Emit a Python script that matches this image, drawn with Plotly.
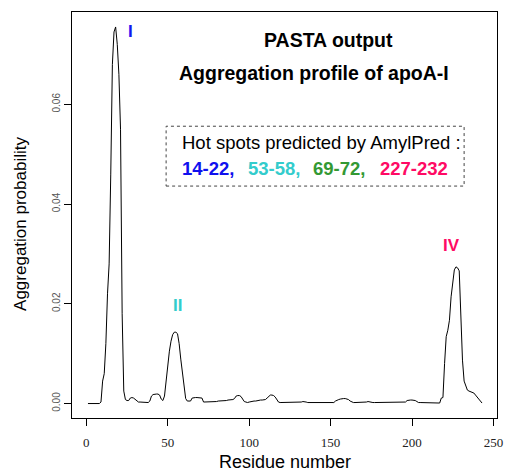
import plotly.graph_objects as go

# Residue numbers 1..243 of apoA-I
residues = list(range(1, 244))

# PASTA aggregation probability per residue
aggregation = [
    # 1-10
    0.0, 0.0, 0.0, 0.0, 0.0, 0.0, 0.0, 0.0, 0.0003, 0.0045,
    # 11-20
    0.0060, 0.0120, 0.0220, 0.0280, 0.0460, 0.0680, 0.0745, 0.0755, 0.0720, 0.0660,
    # 21-30
    0.0550, 0.0180, 0.0025, 0.0008, 0.0006, 0.0006, 0.0011, 0.0012, 0.0011, 0.0008,
    # 31-40
    0.0005, 0.0003, 0.0003, 0.0003, 0.0002, 0.0002, 0.0002, 0.0002, 0.0005, 0.0015,
    # 41-50
    0.0018, 0.0019, 0.0019, 0.0019, 0.0017, 0.0009, 0.0006, 0.0015, 0.0050, 0.0080,
    # 51-60
    0.0105, 0.0125, 0.0138, 0.0143, 0.0143, 0.0140, 0.0120, 0.0089, 0.0060, 0.0032,
    # 61-70
    0.0010, 0.0005, 0.0005, 0.0005, 0.0011, 0.0012, 0.0012, 0.0012, 0.0012, 0.0012,
    # 71-80
    0.0011, 0.0003, 0.0003, 0.0003, 0.0004, 0.0004, 0.0004, 0.0004, 0.0004, 0.0004,
    # 81-90
    0.0005, 0.0005, 0.0005, 0.0005, 0.0006, 0.0006, 0.0007, 0.0007, 0.0008, 0.0008,
    # 91-100
    0.0010, 0.0015, 0.0016, 0.0016, 0.0014, 0.0008, 0.0004, 0.0003, 0.0002, 0.0003,
    # 101-110
    0.0004, 0.0005, 0.0005, 0.0005, 0.0006, 0.0007, 0.0007, 0.0007, 0.0007, 0.0008,
    # 111-120
    0.0011, 0.0015, 0.0017, 0.0017, 0.0016, 0.0013, 0.0008, 0.0003, 0.0002, 0.0002,
    # 121-130
    0.0002, 0.0002, 0.0002, 0.0002, 0.0002, 0.0002, 0.0002, 0.0002, 0.0002, 0.0002,
    # 131-140
    0.0002, 0.0003, 0.0004, 0.0004, 0.0003, 0.0002, 0.0002, 0.0002, 0.0002, 0.0002,
    # 141-150
    0.0002, 0.0002, 0.0001, 0.0001, 0.0001, 0.0002, 0.0002, 0.0002, 0.0002, 0.0002,
    # 151-160
    0.0002, 0.0002, 0.0005, 0.0007, 0.0008, 0.0009, 0.0010, 0.0010, 0.0010, 0.0009,
    # 161-170
    0.0008, 0.0005, 0.0003, 0.0002, 0.0002, 0.0002, 0.0002, 0.0002, 0.0002, 0.0002,
    # 171-180
    0.0002, 0.0003, 0.0004, 0.0003, 0.0002, 0.0002, 0.0002, 0.0002, 0.0002, 0.0002,
    # 181-190
    0.0002, 0.0002, 0.0002, 0.0002, 0.0002, 0.0002, 0.0002, 0.0002, 0.0003, 0.0003,
    # 191-200
    0.0003, 0.0003, 0.0003, 0.0003, 0.0003, 0.0003, 0.0006, 0.0007, 0.0007, 0.0007,
    # 201-210
    0.0007, 0.0006, 0.0004, 0.0002, 0.0002, 0.0002, 0.0002, 0.0002, 0.0002, 0.0001,
    # 211-220
    0.0001, 0.0001, 0.0001, 0.0001, 0.0001, 0.0001, 0.0001, 0.0011, 0.0012, 0.0080,
    # 221-230
    0.0134, 0.0147, 0.0167, 0.0214, 0.0243, 0.0268, 0.0274, 0.0272, 0.0266, 0.0180,
    # 231-240
    0.0087, 0.0045, 0.0035, 0.0027, 0.0025, 0.0024, 0.0023, 0.0021, 0.0017, 0.0013,
    # 241-243
    0.0009, 0.0004, 0.0001,
]

x_ticks = [0, 50, 100, 150, 200, 250]
y_ticks = [0.00, 0.02, 0.04, 0.06]
y_tick_labels = ["0.00", "0.02", "0.04", "0.06"]

peak_labels = ["I", "II", "IV"]
peak_label_x = [27, 56, 224]
peak_label_y = [0.0745, 0.0197, 0.0316]
peak_colors = ["#1515f0", "#33cccc", "#ff0a64"]

hotspots = ["14-22,", "53-58,", "69-72,", "227-232"]
hotspot_colors = ["#1010ee", "#33cccc", "#339933", "#ff0a64"]
hotspot_x = [57.6, 97.9, 138.1, 179.0]

FONT = "Arial, Liberation Sans, sans-serif"

fig = go.Figure()
fig.add_trace(go.Scatter(
    x=residues, y=aggregation, mode="lines",
    line=dict(color="black", width=1), showlegend=False, hoverinfo="skip",
))

annotations = []
for t, xx, yy, c in zip(peak_labels, peak_label_x, peak_label_y, peak_colors):
    annotations.append(dict(x=xx, y=yy, xref="x", yref="y", text="<b>" + t + "</b>",
                            showarrow=False, font=dict(family=FONT, size=17, color=c)))

annotations.append(dict(x=148.5, y=0.0728, xref="x", yref="y", text="<b>PASTA output</b>",
                        showarrow=False, font=dict(family=FONT, size=19.5, color="black")))
annotations.append(dict(x=140, y=0.0662, xref="x", yref="y", text="<b>Aggregation profile of apoA-I</b>",
                        showarrow=False, font=dict(family=FONT, size=19.5, color="black")))
annotations.append(dict(x=57.6, y=0.0524, xref="x", yref="y", text="Hot spots predicted by AmylPred :",
                        xanchor="left", showarrow=False,
                        font=dict(family=FONT, size=18.5, color="black")))
for t, xx, c in zip(hotspots, hotspot_x, hotspot_colors):
    annotations.append(dict(x=xx, y=0.0472, xref="x", yref="y", text="<b>" + t + "</b>",
                            xanchor="left", showarrow=False,
                            font=dict(family=FONT, size=18.5, color=c)))

# axis titles
annotations.append(dict(x=0.5, y=0, xref="paper", yref="paper", yshift=-44, yanchor="middle",
                        text="Residue number", showarrow=False,
                        font=dict(family=FONT, size=18, color="black")))
annotations.append(dict(x=0, y=0.478, xref="paper", yref="paper", xshift=-51, xanchor="center",
                        text="Aggregation probability", textangle=-90, showarrow=False,
                        font=dict(family=FONT, size=17, color="black")))

shapes = [dict(type="rect", xref="x", yref="y", x0=49, x1=232, y0=0.0436, y1=0.0556,
               line=dict(color="#444", width=1, dash="dot"))]

fig.update_layout(
    width=507, height=471, autosize=False,
    margin=dict(l=72, r=4, t=12, b=53),
    paper_bgcolor="white", plot_bgcolor="white",
    annotations=annotations, shapes=shapes,
    xaxis=dict(range=[-8.8, 252.2], tickvals=x_ticks, ticks="outside", ticklen=7,
               tickcolor="black", showline=True, linecolor="black", linewidth=1, mirror=True,
               showgrid=False, zeroline=False, ticklabelstandoff=5, ticklabeloverflow="allow",
               tickfont=dict(family="Liberation Serif, Times New Roman, serif", size=13, color="#222")),
    yaxis=dict(range=[-0.0029, 0.0785], tickvals=y_ticks, ticktext=y_tick_labels,
               ticks="outside", ticklen=7, tickcolor="black", tickangle=-90,
               showline=True, linecolor="black", linewidth=1, mirror=True,
               showgrid=False, zeroline=False,
               tickfont=dict(family=FONT, size=10, color="#555")),
)

fig.write_html("out.html", config={"displayModeBar": False, "responsive": False},
               post_script="document.body.style.margin='0';document.body.style.overflow='hidden';")
